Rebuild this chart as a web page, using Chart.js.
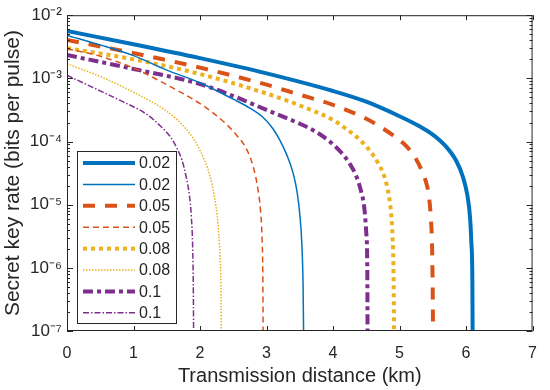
<!DOCTYPE html>
<html><head><meta charset="utf-8">
<script src="https://cdn.jsdelivr.net/npm/chart.js@4.4.0/dist/chart.umd.min.js"></script>
<style>html,body{margin:0;padding:0;background:#fff}#wrap{width:550px;height:390px}</style>
</head><body><div id="wrap"><canvas id="c" width="550" height="390"></canvas></div>
<script>
const legendLabels = ['0.02','0.02','0.05','0.05','0.08','0.08','0.1','0.1'];
const xTickValues = [0,1,2,3,4,5,6,7];
const yTickExponents = [-7,-6,-5,-4,-3,-2];

// thick solid blue (0.02)
const dist1 = [0,1,2,3,4,4.5,5,5.3,5.5,5.7,5.85,5.95,6.02,6.06,6.08,6.095,6.1];
const rate1 = [5.62e-3,3.47e-3,2.09e-3,1.20e-3,6.31e-4,4.27e-4,2.51e-4,1.74e-4,1.29e-4,8.32e-5,5.01e-5,2.82e-5,1.41e-5,6.31e-6,2.51e-6,6.31e-7,5e-8];
// thin solid blue (0.02)
const dist2 = [0,0.5,1,1.5,2,2.5,2.75,2.95,3.1,3.2,3.3,3.4,3.46,3.5,3.53,3.55,3.56];
const rate2 = [4.79e-3,3.39e-3,2.29e-3,1.35e-3,8.51e-4,4.68e-4,3.39e-4,2.40e-4,1.58e-4,1.05e-4,6.31e-5,3.16e-5,1.58e-5,7.08e-6,2.51e-6,5.01e-7,5e-8];
// thick dashed orange (0.05)
const dist3 = [0,1,2,3,3.5,4,4.5,4.7,4.9,5.05,5.15,5.25,5.33,5.4,5.44,5.47,5.49,5.5,5.505];
const rate3 = [4.07e-3,2.51e-3,1.48e-3,7.94e-4,5.50e-4,3.80e-4,2.29e-4,1.74e-4,1.26e-4,9.55e-5,7.41e-5,5.25e-5,3.55e-5,2.24e-5,1.41e-5,6.31e-6,2.0e-6,3.16e-7,5e-8];
// thin dashed orange (0.05)
const dist4 = [0,0.5,1,1.5,2,2.2,2.4,2.55,2.7,2.8,2.87,2.91,2.935,2.945,2.95];
const rate4 = [2.95e-3,2.24e-3,1.45e-3,7.94e-4,3.98e-4,2.82e-4,1.86e-4,1.26e-4,7.59e-5,3.98e-5,1.78e-5,7.94e-6,2.51e-6,6.31e-7,5e-8];
// thick dotted yellow (0.08)
const dist5 = [0,1,2,3,3.5,4,4.2,4.4,4.55,4.67,4.77,4.83,4.87,4.895,4.91,4.92];
const rate5 = [3.02e-3,2.0e-3,1.17e-3,5.75e-4,3.72e-4,2.19e-4,1.58e-4,1.07e-4,7.24e-5,4.68e-5,2.82e-5,1.58e-5,7.94e-6,3.16e-6,7.94e-7,5e-8];
// thin dotted yellow (0.08)
const dist6 = [0,0.5,1,1.5,1.7,1.85,1.97,2.07,2.15,2.22,2.27,2.3,2.315,2.32];
const rate6 = [1.70e-3,1.07e-3,6.03e-4,3.02e-4,2.0e-4,1.32e-4,8.32e-5,5.01e-5,2.82e-5,1.26e-5,5.01e-6,1.58e-6,3.98e-7,5e-8];
// thick dash-dot purple (0.1)
const dist7 = [0,1,2,2.5,3,3.5,3.75,3.95,4.12,4.25,4.35,4.42,4.47,4.5,4.515,4.52];
const rate7 = [2.34e-3,1.41e-3,8.13e-4,5.25e-4,3.16e-4,1.91e-4,1.41e-4,1e-4,6.76e-5,4.47e-5,2.82e-5,1.66e-5,8.91e-6,3.55e-6,1e-6,5e-8];
// thin dash-dot purple (0.1)
const dist8 = [0,0.4,0.8,1.2,1.4,1.55,1.65,1.73,1.79,1.84,1.87,1.89,1.9,1.905];
const rate8 = [1.12e-3,7.08e-4,4.47e-4,2.69e-4,1.78e-4,1.20e-4,7.94e-5,5.01e-5,2.82e-5,1.41e-5,6.31e-6,2.0e-6,3.98e-7,5e-8];

const BLUE='#0072BD', ORANGE='#D95319', YELLOW='#EDB120', PURPLE='#7E2F8E', AX='#262626';
const FONT='"Liberation Sans", Arial, sans-serif';
const styles = [
  {c:BLUE, w:4, d:[]},
  {c:BLUE, w:1.5, d:[]},
  {c:ORANGE, w:4, d:[12,10]},
  {c:ORANGE, w:1.5, d:[6,4]},
  {c:YELLOW, w:4, d:[4,4]},
  {c:YELLOW, w:1.5, d:[1.5,1.5]},
  {c:PURPLE, w:4, d:[10,4,4,4]},
  {c:PURPLE, w:1.5, d:[6,2,1.5,2]}
];
const dists = [dist1,dist2,dist3,dist4,dist5,dist6,dist7,dist8];
const rates = [rate1,rate2,rate3,rate4,rate5,rate6,rate7,rate8];

const datasets = dists.map((d,i)=>({
  label: legendLabels[i],
  data: d.map((x,j)=>({x:x, y:rates[i][j]})),
  borderColor: styles[i].c,
  borderWidth: styles[i].w,
  borderDash: styles[i].d,
  borderCapStyle: 'butt',
  pointRadius: 0,
  fill: false,
  cubicInterpolationMode: 'monotone'
}));

const sup = {'-':'\u207B','0':'\u2070','1':'\u00B9','2':'\u00B2','3':'\u00B3','4':'\u2074','5':'\u2075','6':'\u2076','7':'\u2077','8':'\u2078','9':'\u2079'};
function expLabel(v){
  const e = Math.round(Math.log10(v));
  return '10' + String(e).split('').map(ch=>sup[ch]).join('');
}

const frame = {
  id:'frame',
  afterDraw(chart){
    const ctx = chart.ctx, a = chart.chartArea;
    const xs = chart.scales.x, ys = chart.scales.y;
    ctx.save();
    ctx.strokeStyle = AX; ctx.lineWidth = 1;
    ctx.strokeRect(a.left+0.5, a.top+0.5, a.right-a.left-1, a.bottom-a.top-1);
    ctx.beginPath();
    xTickValues.forEach(v=>{
      const p = Math.round(xs.getPixelForValue(v))+0.5;
      ctx.moveTo(p, a.bottom); ctx.lineTo(p, a.bottom-5);
      ctx.moveTo(p, a.top); ctx.lineTo(p, a.top+5);
    });
    yTickExponents.forEach(e=>{
      for(let m=1;m<=9;m++){
        const v = m*Math.pow(10,e);
        if (v > 1e-2*1.0001) continue;
        const p = Math.round(ys.getPixelForValue(v))+0.5;
        const L = m===1 ? 6 : 3;
        ctx.moveTo(a.left, p); ctx.lineTo(a.left+L, p);
        ctx.moveTo(a.right, p); ctx.lineTo(a.right-L, p);
      }
    });
    ctx.stroke();
    // legend
    const bx=77, by=151, bw=99, bh=172;
    ctx.fillStyle='#fff';
    ctx.fillRect(bx,by,bw,bh);
    ctx.strokeStyle=AX; ctx.lineWidth=1;
    ctx.strokeRect(bx+0.5,by+0.5,bw,bh);
    ctx.font = '16px ' + FONT;
    ctx.textBaseline='middle'; ctx.textAlign='left';
    chart.data.datasets.forEach((ds,i)=>{
      const y = by + 12 + i*21.4;
      ctx.beginPath();
      ctx.strokeStyle = ds.borderColor;
      ctx.lineWidth = ds.borderWidth;
      ctx.lineCap = 'butt';
      ctx.setLineDash(ds.borderDash);
      ctx.moveTo(83, y); ctx.lineTo(135, y);
      ctx.stroke();
      ctx.setLineDash([]);
      ctx.fillStyle = AX;
      ctx.fillText(ds.label, 139, y+1);
    });
    ctx.restore();
  }
};

new Chart(document.getElementById('c'), {
  type:'line',
  data:{datasets},
  options:{
    responsive:false,
    animation:false,
    devicePixelRatio:1,
    layout:{padding:{left:0, top:13, right:9, bottom:0}},
    plugins:{legend:{display:false}, tooltip:{enabled:false}},
    scales:{
      x:{
        type:'linear', min:0, max:7,
        afterBuildTicks: s => { s.ticks = xTickValues.map(v=>({value:v})); },
        afterFit: s => { s.height = 59; },
        grid:{display:false, drawTicks:false},
        border:{display:false},
        ticks:{color:AX, padding:13, font:{family:FONT, size:16}, maxRotation:0},
        title:{display:true, text:'Transmission distance (km)', color:AX, padding:{top:0,bottom:2}, font:{family:FONT, size:20}}
      },
      y:{
        type:'logarithmic', min:1e-7, max:1e-2,
        afterBuildTicks: s => { s.ticks = yTickExponents.map(e=>({value:Math.pow(10,e)})); },
        afterFit: s => { s.width = 67; },
        grid:{display:false, drawTicks:false},
        border:{display:false},
        ticks:{color:AX, padding:5, font:{family:FONT, size:17}, callback: v => expLabel(v)},
        title:{display:true, text:'Secret key rate (bits per pulse)', color:AX, padding:{top:1,bottom:0}, font:{family:FONT, size:21}}
      }
    }
  },
  plugins:[frame]
});
</script>
</body></html>
